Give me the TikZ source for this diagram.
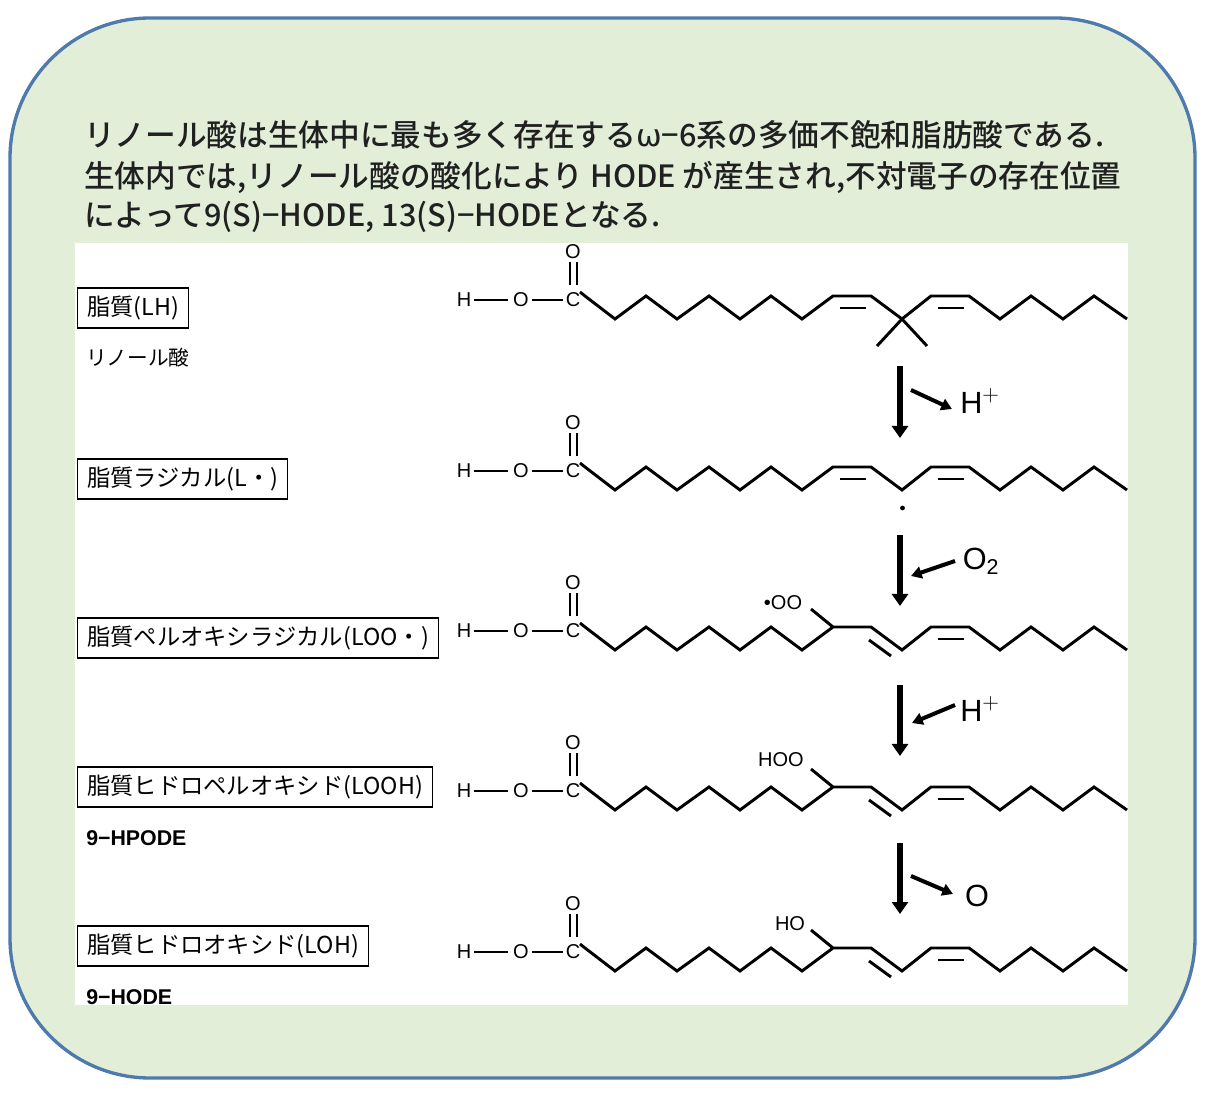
\documentclass[tikz,border=0pt]{standalone}
\usepackage{fontspec}
\setmainfont{Liberation Sans}
\newfontfamily\jp{Noto Sans CJK JP}
\newfontfamily\jpb{Noto Sans CJK JP Medium}
\usetikzlibrary{arrows.meta}
\definecolor{bgG}{HTML}{E3EED9}
\definecolor{brd}{HTML}{4F7AAE}
\definecolor{headC}{HTML}{202020}
\tikzset{
  px/.style={x=0.75pt,y=-0.75pt},
  bond/.style={line width=2.2pt,line join=miter},
  thin/.style={line width=1.6pt},
  atom/.style={inner sep=0pt,font=\fontsize{15}{15}\selectfont},
  lbl/.style={draw,line width=1pt,inner xsep=7pt,inner ysep=6pt,anchor=west,font=\jp\fontsize{17.5}{17.5}\selectfont},
  sub/.style={anchor=west,inner sep=0pt},
  bigarrow/.style={line width=4pt,-{Triangle[width=12pt,length=9pt]}},
  smallarrow/.style={line width=3pt,-{Triangle[width=9pt,length=8pt]}},
  spec/.style={inner sep=0pt,font=\fontsize{23}{23}\selectfont},
  head/.style={anchor=west,inner sep=0pt,text=headC,font=\jp\fontsize{23}{23}\selectfont}
}
\newcommand\acidhead{%
  \node[atom] (h) at (464,4) {H};
  \node[atom] (o) at (521,4) {O};
  \node[atom] (c) at (573,4) {C};
  \node[atom] (oc) at (573,-44) {O};
  \draw[bond] (474,4) -- (508,4);
  \draw[bond] (532,4) -- (563,4);
  \draw[thin] (570,-34) -- (570,-11);
  \draw[thin] (577,-34) -- (577,-11);
}
\newcommand\chainA{%
  \draw[bond] (580,-4) -- (585,0) -- (615,23) -- (646,0) -- (677,23) -- (709,0) -- (740,23) -- (771,0) -- (802,23) -- (833,0) -- (871,0) -- (902,23) -- (931,0) -- (969,0) -- (1000,23) -- (1031,0) -- (1063,23) -- (1094,0) -- (1127,23);
  \draw[bond] (840,12) -- (866,12);
  \draw[bond] (938,12) -- (964,12);
}
\newcommand\chainB{%
  \draw[bond] (580,-4) -- (585,0) -- (615,23) -- (646,0) -- (677,23) -- (709,0) -- (740,23) -- (771,0) -- (802,23) -- (833,0) -- (871,0) -- (902,23) -- (931,0) -- (969,0) -- (1000,23) -- (1031,0) -- (1063,23) -- (1094,0) -- (1127,23);
  \draw[bond] (869,13) -- (891,29);
  \draw[bond] (938,12) -- (964,12);
  \draw[bond] (833,0) -- (811,-18);
}
\begin{document}
\begin{tikzpicture}[px]
\useasboundingbox (0,0) rectangle (1208,1094);
\fill[white] (0,0) rectangle (1208,1094);
\draw[fill=bgG,draw=brd,line width=2.5pt,rounded corners=105pt] (10,18) rectangle (1195,1078);
\node[head] (t1) at (84,135) {\jpb リノール酸は生体中に最も多く存在する{\fontspec{DejaVu Sans}ω}−6系の多価不飽和脂肪酸である.};
\node[head] (t2) at (84,177) {\jpb 生体内では,リノール酸の酸化により HODE が産生され,不対電子の存在位置};
\node[head] (t3) at (84,217) {\jpb によって9(S)−HODE, 13(S)−HODEとなる.};
\fill[white] (75,243) rectangle (1128,1005);
% labels
\node[lbl] (b1) at (77,308) {脂質(LH)};
\node[sub,font=\jp\fontsize{15.5}{15.5}\selectfont] (s1) at (86,358) {リノール酸};
\node[lbl] (b2) at (77,479) {脂質ラジカル(L・)};
\node[lbl] (b3) at (77,638) {脂質ペルオキシラジカル(LOO・)};
\node[lbl] (b4) at (77,787) {脂質ヒドロペルオキシド(LOOH)};
\node[sub,font=\bfseries\fontsize{16}{16}\selectfont] (s4) at (86,838) {9−HPODE};
\node[lbl] (b5) at (77,946) {脂質ヒドロオキシド(LOH)};
\node[sub,font=\bfseries\fontsize{16}{16}\selectfont] (s5) at (86,997) {9−HODE};
% molecules
\begin{scope}[shift={(0,296)}]
  \acidhead \chainA
  \draw[bond] (902,23) -- (877,50);
  \draw[bond] (902,23) -- (927,50);
\end{scope}
\begin{scope}[shift={(0,467)}]
  \acidhead \chainA
  \fill (902.5,41) circle (1.8pt);
\end{scope}
\begin{scope}[shift={(0,627)}]
  \acidhead \chainB
  \node[atom] (r3) at (783,-24) {\textbullet OO};
\end{scope}
\begin{scope}[shift={(0,787)}]
  \acidhead \chainB
  \node[atom] (r4) at (781,-27) {HOO};
\end{scope}
\begin{scope}[shift={(0,948)}]
  \acidhead \chainB
  \node[atom] (r5) at (790,-24) {HO};
\end{scope}
% arrows
\coordinate (a1s) at (900,366); \coordinate (a1e) at (900,438);
\draw[bigarrow] (a1s) -- (a1e);
\node[spec] (hp1) at (980,401) {H$^{+}$};
\coordinate (x1) at (911,390); \coordinate (y1) at (952,409);
\draw[smallarrow] (x1) -- (y1);
\coordinate (a2s) at (900,535); \coordinate (a2e) at (900,606);
\draw[bigarrow] (a2s) -- (a2e);
\node[spec] (o2) at (981,561) {O\textsubscript{2}};
\coordinate (x2) at (955,561); \coordinate (y2) at (911,576);
\draw[smallarrow] (x2) -- (y2);
\coordinate (a3s) at (900,685); \coordinate (a3e) at (900,756);
\draw[bigarrow] (a3s) -- (a3e);
\node[spec] (hp3) at (980,709) {H$^{+}$};
\coordinate (x3) at (955,705); \coordinate (y3) at (912,723);
\draw[smallarrow] (x3) -- (y3);
\coordinate (a4s) at (900,843); \coordinate (a4e) at (900,914);
\draw[bigarrow] (a4s) -- (a4e);
\node[spec] (oo) at (977,896) {O};
\coordinate (x4) at (911,876); \coordinate (y4) at (953,894);
\draw[smallarrow] (x4) -- (y4);
\end{tikzpicture}
\end{document}
